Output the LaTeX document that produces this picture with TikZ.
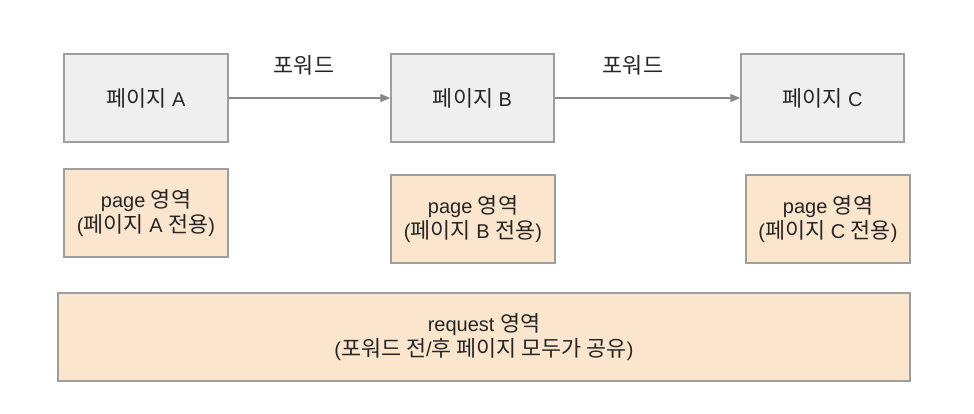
\documentclass[tikz,border=0pt]{standalone}
\usepackage{fontspec}
\setmainfont{Liberation Sans}
\newfontfamily\kr[Scale=1.09]{Noto Sans CJK KR}
\usetikzlibrary{arrows.meta}
\definecolor{grayfill}{HTML}{EFEFEF}
\definecolor{orangefill}{HTML}{FCE5CD}
\definecolor{edgecol}{HTML}{9E9E9E}
\definecolor{txt}{HTML}{262626}
\definecolor{arrowcol}{HTML}{888888}
\newcommand{\K}[1]{{\kr #1}}
\tikzset{
  pagebox/.style={draw=edgecol, line width=1.4pt, fill=grayfill, minimum width=164pt, minimum height=88pt, inner sep=0pt, text=txt, font=\fontsize{20}{25.5}\selectfont},
  areabox/.style={draw=edgecol, line width=1.4pt, fill=orangefill, minimum height=88pt, inner sep=0pt, text=txt, align=center, font=\fontsize{20}{25.5}\selectfont},
  fwdarrow/.style={draw=arrowcol, line width=1.3pt, -{Triangle[length=10pt,width=8pt]}},
  fwdlabel/.style={text=txt, inner sep=0pt, font=\fontsize{20}{24}\selectfont}
}
\begin{document}
\begin{tikzpicture}[x=1pt,y=-1pt]
\useasboundingbox[fill=white] (0,0) rectangle (974,414);
\node[pagebox] (A) at (146,98) {\K{페이지} A};
\node[pagebox, minimum width=163pt] (B) at (472.5,98) {\K{페이지} B};
\node[pagebox, minimum width=163pt] (C) at (822.5,98) {\K{페이지} C};
\draw[fwdarrow] (A) -- (B);
\draw[fwdarrow] (B) -- (C);
\node[fwdlabel] (L1) at (304,65) {\K{포워드}};
\node[fwdlabel] (L2) at (633,65) {\K{포워드}};
\node[areabox, minimum width=164pt] (PA) at (146,213) {page \K{영역}\\(\K{페이지} A \K{전용})};
\node[areabox, minimum width=164pt] (PB) at (473,219) {page \K{영역}\\(\K{페이지} B \K{전용})};
\node[areabox, minimum width=164pt] (PC) at (828,219) {page \K{영역}\\(\K{페이지} C \K{전용})};
\node[areabox, minimum width=852pt] (R) at (484,337) {request \K{영역}\\(\K{포워드 전}/\K{후 페이지 모두가 공유})};
\end{tikzpicture}
\end{document}
